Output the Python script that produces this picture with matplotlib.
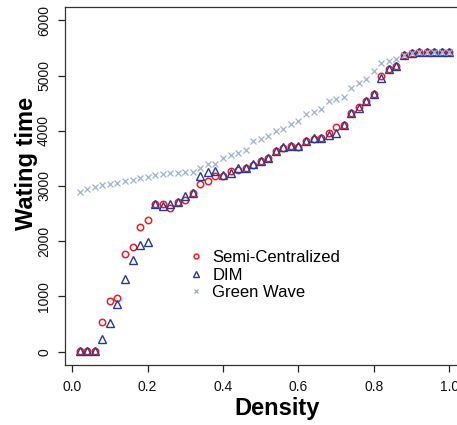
import matplotlib
matplotlib.use("Agg")
import matplotlib.pyplot as plt
import numpy as np

plt.rcParams['font.family'] = ['Liberation Sans', 'DejaVu Sans']

density = [round(0.02 * i, 2) for i in range(1, 51)]

semi_centralized = [
    5, 5, 5, 540, 915, 970, 1776, 1904, 2249, 2382,
    2673, 2673, 2594, 2715, 2745, 2878, 3040, 3085, 3182, 3185,
    3273, 3290, 3333, 3382, 3445, 3515, 3636, 3690, 3720, 3705,
    3820, 3855, 3867, 3965, 4070, 4105, 4315, 4430, 4540, 4667,
    4990, 5115, 5170, 5370, 5412, 5420, 5420, 5420, 5420, 5420,
]

dim = [
    5, 5, 5, 230, 527, 867, 1321, 1667, 1939, 1982,
    2673, 2630, 2673, 2715, 2824, 2878, 3190, 3260, 3278, 3195,
    3230, 3333, 3333, 3400, 3445, 3515, 3636, 3697, 3720, 3720,
    3820, 3860, 3867, 3927, 3965, 4105, 4315, 4410, 4540, 4667,
    4960, 5115, 5170, 5370, 5412, 5420, 5420, 5420, 5420, 5420,
]

green_wave = [
    2897, 2940, 2980, 3010, 3033, 3054, 3088, 3109, 3139, 3164,
    3191, 3209, 3230, 3242, 3250, 3258, 3318, 3406, 3406, 3503,
    3564, 3600, 3655, 3806, 3848, 3897, 4003, 4035, 4127, 4170,
    4300, 4345, 4397, 4536, 4567, 4606, 4780, 4870, 4945, 5080,
    5220, 5265, 5290, 5370, 5412, 5420, 5420, 5420, 5420, 5420,
]

series_labels = ["Semi-Centralized", "DIM", "Green Wave"]
x_ticks = [0.0, 0.2, 0.4, 0.6, 0.8, 1.0]
y_ticks = [0, 1000, 2000, 3000, 4000, 5000, 6000]

W, H = 457, 425
fig = plt.figure(figsize=(W / 100, H / 100), dpi=100)
left, right, bottom, top = 65, 464, 365, 7
ax = fig.add_axes([left / W, 1 - bottom / H, (right - left) / W, (bottom - top) / H])

red = "#ee1c24"
blue = "#2a3990"
grey = "#9fb1d2"

ax.plot(density, semi_centralized, linestyle='none', marker='o', ms=4.6,
        mfc='none', mec=red, mew=1.1, label=series_labels[0])
ax.plot(density, dim, linestyle='none', marker='^', ms=5.6,
        mfc='none', mec=blue, mew=1.0, label=series_labels[1])
ax.plot(density, green_wave, linestyle='none', marker='x', ms=4.6,
        color=grey, mew=0.9, label=series_labels[2])

xmin, xmax = 0.02, 1.0
dx = (xmax - xmin) * 0.04
ax.set_xlim(xmin - dx, xmax + dx)
ax.set_ylim(-240, 6240)

ax.set_xticks(x_ticks)
ax.set_xticklabels([f"{v:.1f}" for v in x_ticks])
ax.set_yticks(y_ticks)
ax.set_yticklabels([str(v) for v in y_ticks], rotation=90, va='center')
ax.tick_params(axis='both', labelsize=10, length=5, width=0.9, color='#222222',
               labelcolor='#111111')
ax.tick_params(axis='x', pad=6)
ax.tick_params(axis='y', pad=5)
for s in ax.spines.values():
    s.set_linewidth(0.9)
    s.set_color('#333333')

fig.text(277 / W, 1 - 409 / H, "Density", ha='center', va='center',
         fontsize=17, fontweight='bold')
fig.text(26 / W, 1 - 163 / H, "Wating time", ha='center', va='center',
         fontsize=17, fontweight='bold', rotation=90)

leg = ax.legend(loc='upper left', bbox_to_anchor=(188 / W, 1 - 250 / H),
                bbox_transform=fig.transFigure, frameon=False, fontsize=12,
                markerscale=0.75, handlelength=1.0, handletextpad=0.45,
                labelspacing=0.15, borderaxespad=0, borderpad=0)

fig.savefig("out.png", dpi=100)
